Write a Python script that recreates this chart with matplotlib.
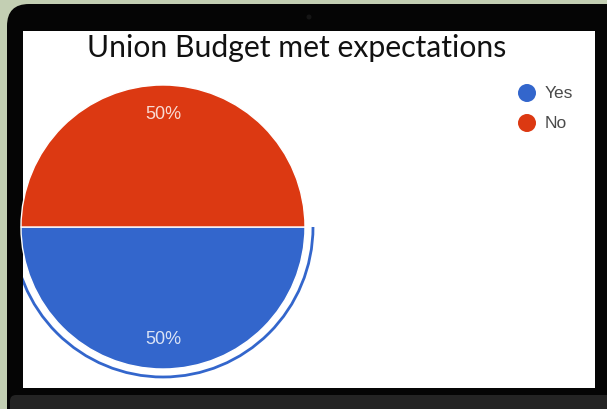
import matplotlib
matplotlib.use("Agg")
import matplotlib.pyplot as plt
from matplotlib.patches import FancyBboxPatch, Rectangle, Arc, Circle

# ---- data ----
title = "Union Budget met expectations"
categories = ["Yes", "No"]
values = [50, 50]
colors = ["#3366cc", "#dc3912"]

W, H = 607, 409
fig = plt.figure(figsize=(W / 100, H / 100), dpi=100)
fig.patch.set_facecolor("#c3cfb3")

# background/frame axes in pixel coordinates (y downwards)
bg = fig.add_axes([0, 0, 1, 1])
bg.set_xlim(0, W)
bg.set_ylim(H, 0)
bg.axis("off")

# laptop bezel
bg.add_patch(FancyBboxPatch((7, 4), 640, 440, boxstyle="round,pad=0,rounding_size=22",
                            fc="#050505", ec="none"))
# camera
bg.add_patch(Circle((309, 17), 2.5, fc="#151515", ec="none"))
# laptop base
bg.add_patch(FancyBboxPatch((10, 395), 640, 40, boxstyle="round,pad=0,rounding_size=6",
                            fc="#242424", ec="none"))
# screen
bg.add_patch(Rectangle((23, 31), 572, 357, fc="white", ec="none"))

# title
bg.text(297, 57, title, ha="center", va="baseline", fontsize=21.7,
        family="Lato", color="#111111")

# legend
leg_y = [93, 123]
for cat, col, y in zip(categories, colors, leg_y):
    bg.add_patch(Circle((527, y), 9, fc=col, ec="none"))
    bg.text(545, y, cat, ha="left", va="center", fontsize=12.5,
            family="Liberation Sans", color="#4a4a4a")

# pie axes placed so pie centre is at (163, 227) px, radius 142 px
cx, cy, R = 163, 227, 142
x0, x1 = 23, 330
y0, y1 = 31, 387
pax = fig.add_axes([x0 / W, (H - y1) / H, (x1 - x0) / W, (y1 - y0) / H])
wedges, texts, autotexts = pax.pie(
    values, colors=colors, startangle=180, counterclock=True,
    autopct="%1.0f%%", pctdistance=0.79,
    wedgeprops=dict(edgecolor="white", linewidth=1.0),
    textprops=dict(color="white", fontsize=13, family="Liberation Sans"),
)
for t in autotexts:
    t.set_alpha(0.82)

# selection ring around the "Yes" slice
pax.add_patch(Arc((0, 0), 2 * 150 / R, 2 * 150 / R, theta1=180, theta2=360,
                  color=colors[0], lw=2.0))

pax.set_aspect("auto")
pax.set_xlim((x0 - cx) / R, (x1 - cx) / R)
pax.set_ylim((cy - y1) / R, (cy - y0) / R)
pax.axis("off")

fig.savefig("out.png", dpi=100, facecolor=fig.get_facecolor())
